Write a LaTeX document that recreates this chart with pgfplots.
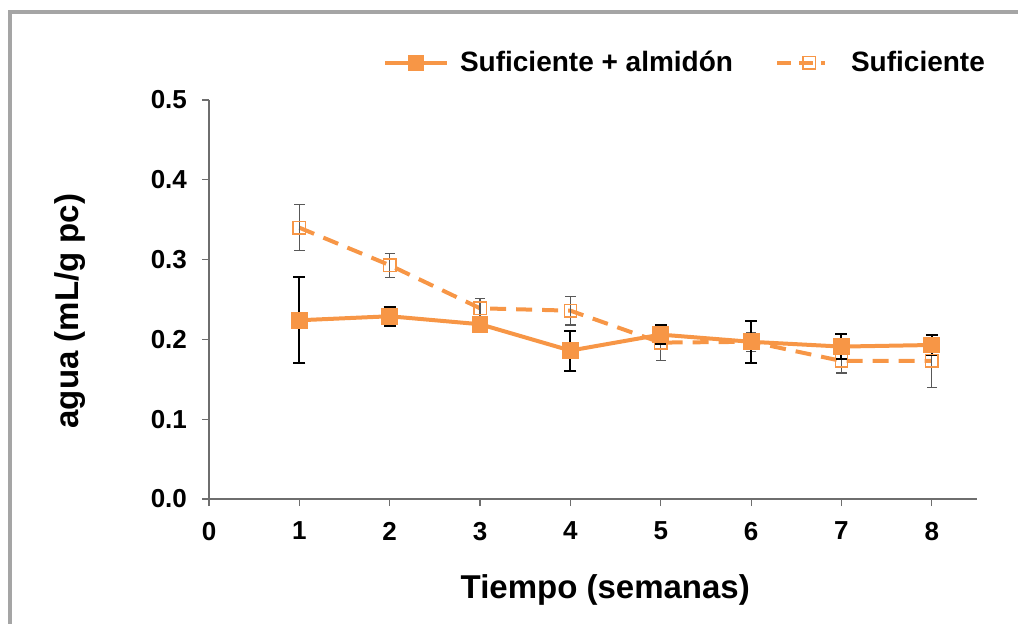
\documentclass[border=0pt]{standalone}
\usepackage{fontspec}
\setmainfont{Liberation Sans}
\usepackage{pgfplots}
\pgfplotsset{compat=1.18}
\usepackage{pgfplotstable}
\definecolor{xorange}{RGB}{247,150,70}
\definecolor{axgray}{RGB}{110,110,110}
\definecolor{framegray}{RGB}{165,165,165}

\pgfplotsset{
  dashleg/.style={legend image code/.code={\draw[##1, dash pattern=on 7pt off 4pt] (0pt,0pt) -- (24pt,0pt);
    \draw[##1, mark repeat=1] plot coordinates {(16pt,0pt)};}},
  solidleg/.style={legend image code/.code={\draw[##1, mark repeat=2, mark phase=2] plot coordinates {(0pt,0pt) (15.5pt,0pt) (31pt,0pt)};}},
}

\pgfplotstableread{
x y e
1 0.224 0.054
2 0.229 0.012
3 0.219 0.005
4 0.186 0.025
5 0.206 0.012
6 0.197 0.026
7 0.191 0.016
8 0.193 0.012
}\almidon

\pgfplotstableread{
x y e
1 0.340 0.029
2 0.293 0.015
3 0.239 0.012
4 0.236 0.018
5 0.196 0.022
6 0.197 0.012
7 0.173 0.015
8 0.173 0.033
}\suficiente

\begin{document}
\begin{tikzpicture}[x=1pt,y=1pt]
\useasboundingbox (0,0) rectangle (509,311.5);
\clip (0,0) rectangle (509,311.5);
\draw[line width=1.6pt, framegray] (5,-10) -- (5,305.5) -- (530,305.5);
\begin{axis}[
  at={(104.5pt,62pt)}, anchor=south west,
  scale only axis, width=384pt, height=199.5pt,
  xmin=0, xmax=8.5, ymin=0, ymax=0.5,
  axis x line*=bottom, axis y line*=left,
  axis line style={draw=axgray, line width=0.6pt},
  tick style={draw=axgray, line width=0.6pt},
  tick align=outside, major tick length=3.5pt,
  xtick={0,1,2,3,4,5,6,7,8}, ytick={0,0.1,0.2,0.3,0.4,0.5},
  /pgf/number format/assume math mode=true,
  ticklabel style={font=\fontsize{13}{15}\selectfont\bfseries},
  yticklabel style={xshift=-4pt, /pgf/number format/.cd, fixed, fixed zerofill, precision=1},
  xticklabel style={yshift=-4.5pt},
  xlabel={Tiempo (semanas)},
  ylabel={agua (mL/g pc)},
  label style={font=\fontsize{16.5}{20}\selectfont\bfseries},
  xlabel style={at={(axis description cs:0.516,-0.228)}, anchor=center},
  ylabel style={at={(axis description cs:-0.181,0.471)}, anchor=center, rotate=0},
  legend style={at={(axis description cs:1.016,1.093)}, anchor=east, draw=none, fill=none,
    inner sep=0pt, font=\fontsize{14}{17}\selectfont\bfseries, legend columns=2,
    /tikz/every odd column/.append style={column sep=3.5pt},
    /tikz/every even column/.append style={column sep=19pt}},
  reverse legend,
]
\addplot[xorange, line width=2pt, dash pattern=on 8pt off 5pt, mark=square, mark size=3.1pt,
  mark options={solid, fill=white, line width=0.7pt}, dashleg,
  error bars/.cd, y dir=both, y explicit,
  error bar style={axgray!80!black, line width=0.6pt, solid},
  error mark options={rotate=90, mark size=2.6pt, line width=0.6pt, axgray!80!black, solid}]
  table[x=x, y=y, y error=e] {\suficiente};
\addlegendentry{\hspace*{6.5pt}Suficiente}
\addplot[xorange, line width=2pt, mark=square*, mark size=3.2pt,
  mark options={solid, fill=xorange}, solidleg,
  error bars/.cd, y dir=both, y explicit,
  error bar style={black, line width=1pt, solid},
  error mark options={rotate=90, mark size=3pt, line width=1pt, black, solid}]
  table[x=x, y=y, y error=e] {\almidon};
\addlegendentry{Suficiente + almidón}
\end{axis}
\end{tikzpicture}
\end{document}
